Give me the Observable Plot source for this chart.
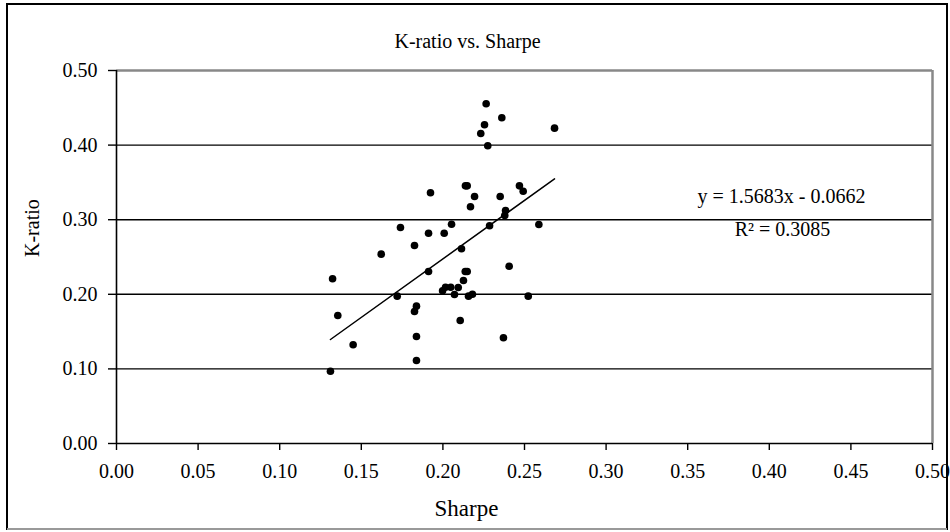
<!DOCTYPE html>
<html>
<head>
<meta charset="utf-8">
<script src="https://cdn.jsdelivr.net/npm/d3@7"></script>
<script src="https://cdn.jsdelivr.net/npm/@observablehq/plot@0.6"></script>
<style>
  html, body { margin: 0; padding: 0; background: #fff; }
  #chart svg { display: block; }
</style>
</head>
<body>
<div id="chart"></div>
<script>
// Sharpe ratio (x) and K-ratio (y) for each fund
const sharpe = [
  0.2265, 0.2361, 0.2255, 0.2232, 0.2275, 0.2684, 0.2138, 0.2149, 0.1924, 0.2194,
  0.2351, 0.2469, 0.2492, 0.2169, 0.2384, 0.2379, 0.1740, 0.1912, 0.2008, 0.2053,
  0.2286, 0.2588, 0.1826, 0.1622, 0.2114, 0.1324, 0.1912, 0.2406, 0.2137, 0.2149,
  0.2126, 0.2016, 0.2048, 0.2094, 0.1998, 0.2071, 0.2157, 0.2181, 0.1720, 0.2523,
  0.1838, 0.1826, 0.1356, 0.2106, 0.1838, 0.2371, 0.1450, 0.1838, 0.1311
];
const kratio = [
  0.4554, 0.4366, 0.4272, 0.4155, 0.3991, 0.4227, 0.3454, 0.3454, 0.3361, 0.3311,
  0.3311, 0.3454, 0.3382, 0.3173, 0.3123, 0.3056, 0.2895, 0.2819, 0.2819, 0.2940,
  0.2918, 0.2936, 0.2654, 0.2538, 0.2610, 0.2208, 0.2306, 0.2377, 0.2306, 0.2306,
  0.2185, 0.2095, 0.2095, 0.2091, 0.2047, 0.1997, 0.1975, 0.2001, 0.1975, 0.1975,
  0.1841, 0.1769, 0.1716, 0.1649, 0.1434, 0.1417, 0.1323, 0.1113, 0.0969
];

// Linear trendline coefficients (from the chart's equation label)
const trendSlope = 1.5683;
const trendIntercept = -0.0662;
const rSquared = 0.3085;

// Axis ticks
const xTicks = [0, 0.05, 0.10, 0.15, 0.20, 0.25, 0.30, 0.35, 0.40, 0.45, 0.50];
const yTicks = [0, 0.10, 0.20, 0.30, 0.40, 0.50];
const gridLines = [0.10, 0.20, 0.30, 0.40];

const titleText = "K-ratio vs. Sharpe";
const xLabel = "Sharpe";
const yLabel = "K-ratio";
const eqText = `y = ${trendSlope.toFixed(4)}x - ${Math.abs(trendIntercept).toFixed(4)}`;
const r2Text = `R\u00B2 = ${rSquared.toFixed(4)}`;

const points = sharpe.map((s, i) => ({sharpe: s, kratio: kratio[i]}));
const [xmin, xmax] = d3.extent(sharpe);
const trend = [xmin, xmax].map(x => ({sharpe: x, kratio: trendSlope * x + trendIntercept}));

const fmt = d => d.toFixed(2);

const chart = Plot.plot({
  width: 950,
  height: 532,
  marginLeft: 116,
  marginRight: 18,
  marginTop: 70,
  marginBottom: 89,
  style: {fontFamily: "'Liberation Serif', 'DejaVu Serif', serif", fontSize: "20px", background: "#fff", color: "#000"},
  x: {domain: [0, 0.5]},
  y: {domain: [0, 0.5]},
  marks: [
    Plot.ruleY(gridLines, {stroke: "#000", strokeWidth: 1.4}),
    Plot.ruleY([0.5], {stroke: "#888", strokeWidth: 2.5}),
    Plot.ruleX([0.5], {stroke: "#888", strokeWidth: 2.5}),
    Plot.axisY({ticks: yTicks, tickFormat: fmt, tickSize: 8, tickPadding: 11, label: null, stroke: "#000", strokeWidth: 1.4, fontSize: 20}),
    Plot.axisX({ticks: xTicks, tickFormat: fmt, tickSize: 7, tickPadding: 13, label: null, stroke: "#000", strokeWidth: 1.4, fontSize: 20}),
    Plot.ruleX([0], {stroke: "#000", strokeWidth: 1.6}),
    Plot.ruleY([0], {stroke: "#000", strokeWidth: 1.6}),
    Plot.line(trend, {x: "sharpe", y: "kratio", stroke: "#000", strokeWidth: 1.5}),
    Plot.dot(points, {x: "sharpe", y: "kratio", r: 3.8, fill: "#000", stroke: "none"}),
    Plot.text([titleText], {frameAnchor: "top", dx: -57, dy: -37, fontSize: 20, fill: "#000"}),
    Plot.text([xLabel], {frameAnchor: "bottom", dx: -58, dy: 72, fontSize: 23, fill: "#000"}),
    Plot.text([yLabel], {frameAnchor: "left", dx: -84, rotate: -90, fontSize: 20, fill: "#000"}),
    Plot.text([eqText], {frameAnchor: "top-left", dx: 665, dy: 126, textAnchor: "middle", lineAnchor: "middle", fontSize: 20, fill: "#000"}),
    Plot.text([r2Text], {frameAnchor: "top-left", dx: 666, dy: 159, textAnchor: "middle", lineAnchor: "middle", fontSize: 20, fill: "#000"})
  ]
});

// Outer chart-area border
const svg = d3.select(chart);
svg.append("rect")
  .attr("x", 7).attr("y", 4).attr("width", 940).attr("height", 525)
  .attr("fill", "none").attr("stroke", "#000").attr("stroke-width", 2);
svg.append("line")
  .attr("x1", 7).attr("x2", 947).attr("y1", 529).attr("y2", 529)
  .attr("stroke", "#999").attr("stroke-width", 2);

document.getElementById("chart").appendChild(chart);
</script>
</body>
</html>
